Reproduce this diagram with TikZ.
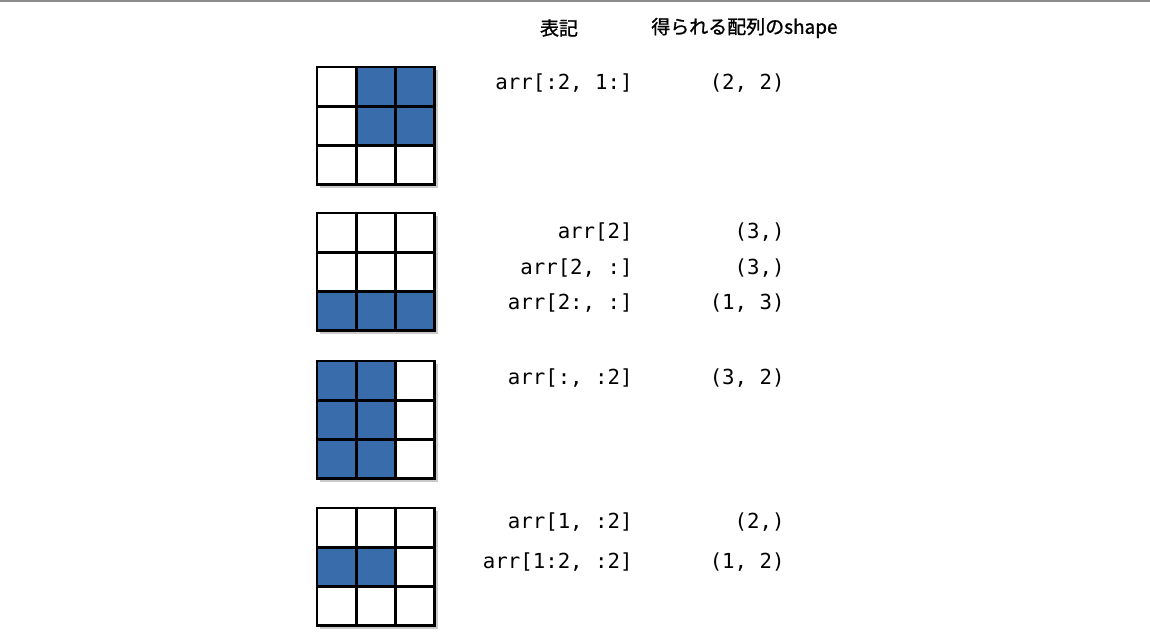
\documentclass[tikz,border=0pt]{standalone}
\usepackage{fontspec}
\usepackage{tikz}
\newfontfamily\jpfont[FakeBold=1.2]{Noto Sans CJK JP}
\newfontfamily\codefont{DejaVu Sans Mono}
\definecolor{cellblue}{RGB}{56,108,170}
\definecolor{rulegray}{gray}{0.55}

\begin{document}
\begin{tikzpicture}[x=0.02cm, y=-0.02cm,
    code/.style={font=\codefont\fontsize{11.8pt}{13pt}\selectfont, inner sep=0pt, anchor=east},
    head/.style={font=\jpfont\fontsize{10.8pt}{13pt}\selectfont, inner sep=0pt},
    cellgrid/.style={line width=1.6pt, black, line cap=rect},
    cellfill/.style={fill=cellblue}]
    \useasboundingbox (0,0) rectangle (1150,644);
    \draw[rulegray, line width=1.2pt] (0,1) -- (1150,1);
    % header
    \node[head] (hnote) at (559,28) {表記};
    \node[head, anchor=west] (hshape) at (651,28) {得られる配列のshape};
    % arr[:2, 1:]
    \begin{scope}[shift={(317,67)}, x=0.786cm, y=-0.786cm]
        \fill[black!35, opacity=0.6] (0.07,0.07) rectangle (3.07,3.07);
        \fill[white] (0,0) rectangle (3,3);
        \foreach \pos in {(1,0),(2,0),(1,1),(2,1)} {
            \fill[cellfill] \pos rectangle ++(1,1);
        }
        \foreach \i in {0,...,3} {
            \draw[cellgrid] (\i,0) -- (\i,3);
            \draw[cellgrid] (0,\i) -- (3,\i);
        }
    \end{scope}
    \node[code] (a1) at (633,83) {arr[:2, 1:]};
    \node[code] (s1) at (785,83) {(2, 2)};
    % arr[2]
    \begin{scope}[shift={(317,213)}, x=0.786cm, y=-0.786cm]
        \fill[black!35, opacity=0.6] (0.07,0.07) rectangle (3.07,3.07);
        \fill[white] (0,0) rectangle (3,3);
        \foreach \pos in {(0,2),(1,2),(2,2)} {
            \fill[cellfill] \pos rectangle ++(1,1);
        }
        \foreach \i in {0,...,3} {
            \draw[cellgrid] (\i,0) -- (\i,3);
            \draw[cellgrid] (0,\i) -- (3,\i);
        }
    \end{scope}
    \node[code] (a2) at (633,232) {arr[2]};
    \node[code] (s2) at (785,232) {(3,)};
    \node[code] (a3) at (633,268) {arr[2, :]};
    \node[code] (s3) at (785,268) {(3,)};
    \node[code] (a4) at (633,303) {arr[2:, :]};
    \node[code] (s4) at (785,303) {(1, 3)};
    % arr[:, :2]
    \begin{scope}[shift={(317,361)}, x=0.786cm, y=-0.786cm]
        \fill[black!35, opacity=0.6] (0.07,0.07) rectangle (3.07,3.07);
        \fill[white] (0,0) rectangle (3,3);
        \foreach \pos in {(0,0),(1,0),(0,1),(1,1),(0,2),(1,2)} {
            \fill[cellfill] \pos rectangle ++(1,1);
        }
        \foreach \i in {0,...,3} {
            \draw[cellgrid] (\i,0) -- (\i,3);
            \draw[cellgrid] (0,\i) -- (3,\i);
        }
    \end{scope}
    \node[code] (a5) at (633,378) {arr[:, :2]};
    \node[code] (s5) at (785,378) {(3, 2)};
    % arr[1, :2]
    \begin{scope}[shift={(317,508)}, x=0.786cm, y=-0.786cm]
        \fill[black!35, opacity=0.6] (0.07,0.07) rectangle (3.07,3.07);
        \fill[white] (0,0) rectangle (3,3);
        \foreach \pos in {(0,1),(1,1)} {
            \fill[cellfill] \pos rectangle ++(1,1);
        }
        \foreach \i in {0,...,3} {
            \draw[cellgrid] (\i,0) -- (\i,3);
            \draw[cellgrid] (0,\i) -- (3,\i);
        }
    \end{scope}
    \node[code] (a6) at (633,522) {arr[1, :2]};
    \node[code] (s6) at (785,522) {(2,)};
    \node[code] (a7) at (633,562) {arr[1:2, :2]};
    \node[code] (s7) at (785,562) {(1, 2)};
\end{tikzpicture}
\end{document}
